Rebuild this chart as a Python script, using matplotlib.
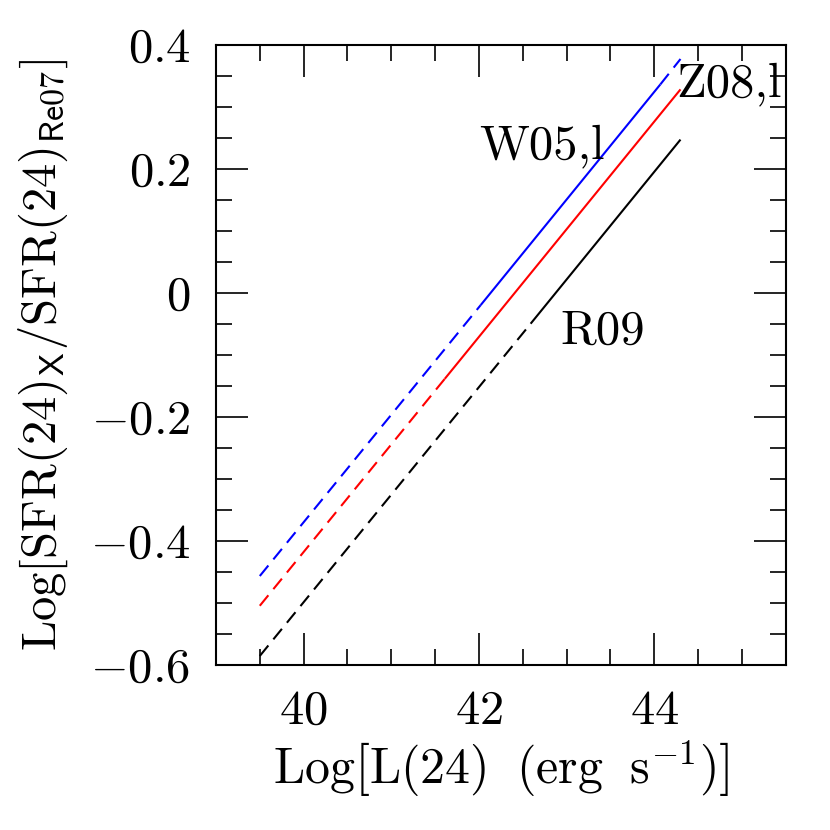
import matplotlib
matplotlib.use("Agg")
import matplotlib.pyplot as plt
from matplotlib.ticker import MultipleLocator, FixedLocator, FixedFormatter

# line segments: x breakpoints, y values, style per segment
w05_x = [39.5, 42.02, 44.07, 44.3]
w05_y = [-0.457, -0.020, 0.336, 0.377]
w05_ls = ['--', '-', '--']

z08_x = [39.5, 41.61, 44.3]
z08_y = [-0.505, -0.139, 0.328]
z08_ls = ['--', '-']

r09_x = [39.5, 42.59, 44.3]
r09_y = [-0.586, -0.050, 0.247]
r09_ls = ['--', '-']

yticks = [-0.6, -0.4, -0.2, 0.0, 0.2, 0.4]
ytick_labels = [r'$-0.6$', r'$-0.4$', r'$-0.2$', r'$0$', r'$0.2$', r'$0.4$']
xticks = [40, 42, 44]
xtick_labels = [r'$40$', r'$42$', r'$44$']

plt.rcParams['mathtext.fontset'] = 'cm'
plt.rcParams['font.family'] = ['cmr10', 'DejaVu Serif']
plt.rcParams['axes.unicode_minus'] = False

fig = plt.figure(figsize=(8.3, 8.3), dpi=100)
ax = fig.add_axes([0.2602, 0.1992, 0.6864, 0.7469])

dash = (0, (6.5, 3.8))


def draw(xs, ys, styles, color):
    for i, s in enumerate(styles):
        ls = dash if s == '--' else '-'
        ax.plot(xs[i:i + 2], ys[i:i + 2], color=color, lw=1.5, linestyle=ls,
                solid_capstyle='butt', dash_capstyle='butt')


draw(w05_x, w05_y, w05_ls, 'blue')
draw(z08_x, z08_y, z08_ls, 'red')
draw(r09_x, r09_y, r09_ls, 'black')

fs = 35
ax.text(42.0, 0.216, 'W05,l', fontsize=fs, ha='left', va='baseline')
ax.text(44.25, 0.317, 'Z08,l', fontsize=fs, ha='left', va='baseline')
ax.text(42.93, -0.083, 'R09', fontsize=fs, ha='left', va='baseline')

ax.set_xlim(39, 45.5)
ax.set_ylim(-0.6, 0.4)
ax.xaxis.set_major_locator(FixedLocator(xticks))
ax.xaxis.set_major_formatter(FixedFormatter(xtick_labels))
ax.xaxis.set_minor_locator(MultipleLocator(0.5))
ax.yaxis.set_major_locator(FixedLocator(yticks))
ax.yaxis.set_major_formatter(FixedFormatter(ytick_labels))
ax.yaxis.set_minor_locator(MultipleLocator(0.05))

ax.tick_params(which='both', direction='in', top=True, right=True, width=1.2)
ax.tick_params(which='major', length=23)
ax.tick_params(which='minor', length=11.5)
ax.tick_params(axis='x', which='major', pad=18, labelsize=fs)
ax.tick_params(axis='y', which='major', pad=18.5, labelsize=fs)
for sp in ax.spines.values():
    sp.set_linewidth(1.5)

ax.set_xlabel(r'$\mathrm{Log}\left[\mathrm{L(24)\;\ (erg\;\ s^{-1})}\right]$', fontsize=36, labelpad=3)
ax.set_ylabel(r'$\mathrm{Log}\left[\mathrm{SFR(24)}_{\mathsf{X}}/\mathrm{SFR(24)}_{\mathsf{Re07}}\right]$',
              fontsize=fs, labelpad=14)

fig.savefig('out.png', dpi=100)
